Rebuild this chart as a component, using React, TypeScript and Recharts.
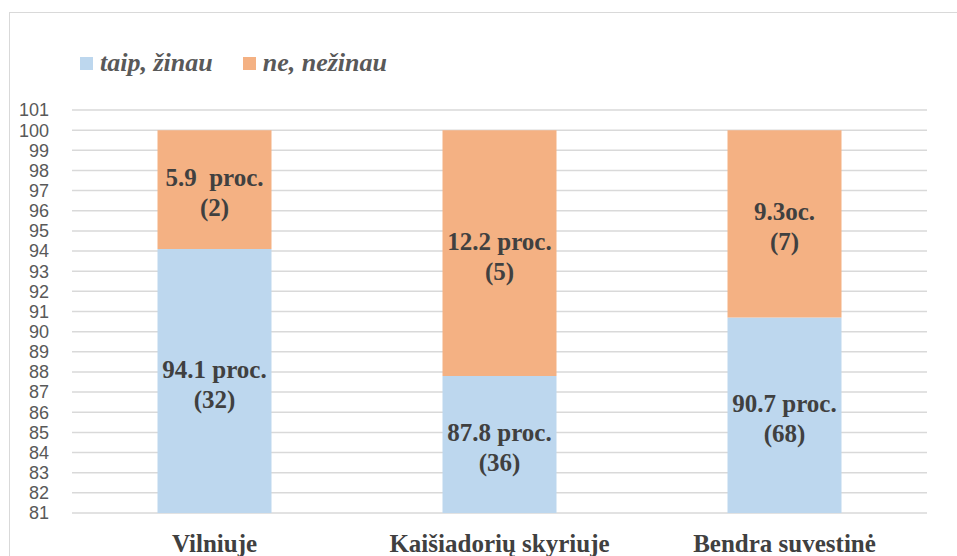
import React from 'react';
import { BarChart, Bar, XAxis, YAxis, CartesianGrid, LabelList } from 'recharts';

const categories = ['Vilniuje', 'Kaišiadorių skyriuje', 'Bendra suvestinė'];
const taipValues = [94.1, 87.8, 90.7];
const neValues = [5.9, 12.2, 9.3];
const taipPct = ['94.1 proc.', '87.8 proc.', '90.7 proc.'];
const taipCount = ['(32)', '(36)', '(68)'];
const nePct = ['5.9  proc.', '12.2 proc.', '9.3oc.'];
const neCount = ['(2)', '(5)', '(7)'];
const yTicks = [81, 82, 83, 84, 85, 86, 87, 88, 89, 90, 91, 92, 93, 94, 95, 96, 97, 98, 99, 100, 101];

const BLUE = '#bdd7ee';
const ORANGE = '#f4b183';
const SERIF = 'Liberation Serif, Tinos, Times New Roman, Times, DejaVu Serif, serif';

const W = 957;
const H = 556;
const MARGIN = { top: 110, right: 30, bottom: 0, left: 0 };
const X_AXIS_H = 43;
const PLOT_BOTTOM = H - MARGIN.bottom - X_AXIS_H;

const data = categories.map((name, i) => ({
  name,
  taip: taipValues[i],
  ne: neValues[i],
}));

function makeLabel(lines1: string[], lines2: string[]) {
  return (props: any) => {
    const { x, y, width, height, index } = props;
    const top = Number(y);
    const bottom = Math.min(top + Number(height), PLOT_BOTTOM);
    const cx = Number(x) + Number(width) / 2;
    const cy = (top + bottom) / 2;
    const textStyle = { fontFamily: SERIF, fontWeight: 700, fontSize: 25, whiteSpace: 'pre' as const };
    return (
      <g>
        <text x={cx} y={cy - 12} textAnchor="middle" dominantBaseline="central" fill="#404040" style={textStyle}>
          {lines1[index]}
        </text>
        <text x={cx} y={cy + 18} textAnchor="middle" dominantBaseline="central" fill="#404040" style={textStyle}>
          {lines2[index]}
        </text>
      </g>
    );
  };
}

function LegendBox() {
  const items = [
    { label: 'taip, žinau', color: BLUE },
    { label: 'ne, nežinau', color: ORANGE },
  ];
  return (
    <div
      style={{
        position: 'absolute',
        left: 80,
        top: 48,
        display: 'flex',
        alignItems: 'center',
        fontFamily: SERIF,
        fontStyle: 'italic',
        fontWeight: 700,
        fontSize: 26,
        color: '#595959',
      }}
    >
      {items.map((it) => (
        <div key={it.label} style={{ display: 'flex', alignItems: 'center', marginRight: 30 }}>
          <span style={{ width: 13, height: 13, background: it.color, marginRight: 7, display: 'inline-block' }} />
          <span>{it.label}</span>
        </div>
      ))}
    </div>
  );
}

export default function App() {
  return (
    <div style={{ position: 'fixed', left: 0, top: 0, width: W, height: H, overflow: 'hidden', background: '#fff' }}>
      <div
        style={{
          position: 'absolute',
          left: 9,
          top: 12,
          width: 980,
          height: 600,
          border: '1.5px solid #d9d9d9',
        }}
      />
      <LegendBox />
      <div style={{ position: 'absolute', left: 0, top: 0 }}>
        <BarChart width={W} height={H} data={data} margin={MARGIN} barCategoryGap="30%">
          <CartesianGrid vertical={false} stroke="#d9d9d9" strokeWidth={1.5} />
          <XAxis
            dataKey="name"
            height={X_AXIS_H}
            axisLine={false}
            tickLine={false}
            tickSize={0}
            tickMargin={21}
            interval={0}
            tick={{ fill: '#404040', fontSize: 25, fontWeight: 700, style: { fontFamily: SERIF } }}
          />
          <YAxis
            domain={[81, 101]}
            ticks={yTicks}
            interval={0}
            allowDataOverflow
            width={72}
            axisLine={false}
            tickLine={false}
            tickSize={6}
            tickMargin={17}
            tick={{ fill: '#595959', fontSize: 18, fontFamily: 'Liberation Sans, Arial, sans-serif' }}
          />
          <Bar dataKey="taip" stackId="a" fill={BLUE} isAnimationActive={false}>
            <LabelList dataKey="taip" content={makeLabel(taipPct, taipCount)} />
          </Bar>
          <Bar dataKey="ne" stackId="a" fill={ORANGE} isAnimationActive={false}>
            <LabelList dataKey="ne" content={makeLabel(nePct, neCount)} />
          </Bar>
        </BarChart>
      </div>
    </div>
  );
}
